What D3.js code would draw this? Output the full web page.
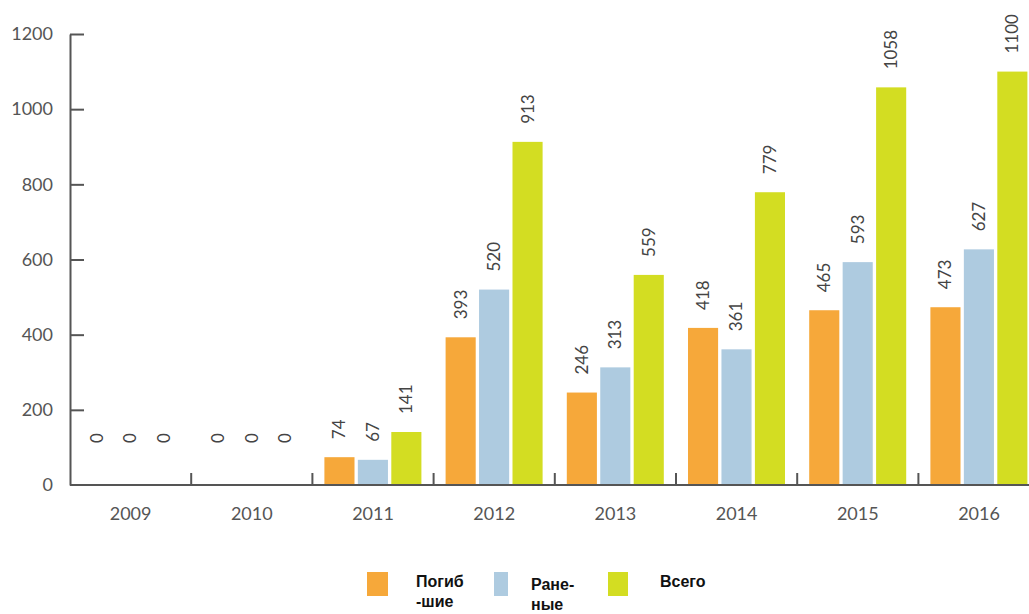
<!DOCTYPE html>
<meta charset="utf-8">
<html>
<head>
<script src="https://d3js.org/d3.v7.min.js"></script>
<style>
  body { margin: 0; background: #fff; }
  .axis text { font: 18px Lato, sans-serif; fill: #555; }
  .axis path, .axis line { stroke: #555; stroke-width: 2px; }
  .val { font: 17px Lato, sans-serif; fill: #444; }
  .leg { font: bold 16px "Liberation Sans", Arial, sans-serif; fill: #111; }
</style>
</head>
<body>
<script>
// data
var years = ["2009", "2010", "2011", "2012", "2013", "2014", "2015", "2016"];
var series = ["killed", "wounded", "total"];
var killed  = [0, 0, 74, 393, 246, 418, 465, 473];
var wounded = [0, 0, 67, 520, 313, 361, 593, 627];
var total   = [0, 0, 141, 913, 559, 779, 1058, 1100];
var yTicks = [0, 200, 400, 600, 800, 1000, 1200];
var legendLines = [["Погиб", "-шие"], ["Ране-", "ные"], ["Всего"]];
var colors = ["#F6A83A", "#AECBE0", "#D3DD22"];

var width = 1029, height = 614;
var left = 70, bandW = 121.2;

var svg = d3.select("body").append("svg")
  .attr("width", width)
  .attr("height", height);

var x0 = d3.scaleBand().domain(years).range([left, left + bandW * years.length]);
var x1 = d3.scaleBand().domain(series).range([12, 109]).paddingInner(0.1);
var y = d3.scaleLinear().domain([0, 1200]).range([485, 34]);

var rows = years.map(function(yr, i) {
  return {year: yr, vals: [killed[i], wounded[i], total[i]]};
});

// bars
var g = svg.selectAll(".grp").data(rows).enter().append("g")
  .attr("transform", function(d) { return "translate(" + x0(d.year) + ",0)"; });

g.selectAll("rect").data(function(d) { return d.vals; }).enter().append("rect")
  .attr("x", function(d, i) { return x1(series[i]); })
  .attr("width", x1.bandwidth())
  .attr("y", function(d) { return y(d); })
  .attr("height", function(d) { return y(0) - y(d); })
  .attr("fill", function(d, i) { return colors[i]; });

g.selectAll("text").data(function(d) { return d.vals; }).enter().append("text")
  .attr("class", "val")
  .attr("transform", function(d, i) {
    var cx = x1(series[i]) + x1.bandwidth() / 2;
    var ty = Math.min(y(d) - 18, y(0) - 42);
    return "translate(" + cx + "," + ty + ") rotate(-90)";
  })
  .attr("dy", "0.35em")
  .style("text-anchor", "start")
  .text(function(d) { return d; });

// y axis
svg.append("g")
  .attr("class", "axis")
  .attr("transform", "translate(" + left + ",0)")
  .call(d3.axisLeft(y).tickValues(yTicks).tickFormat(d3.format("d"))
    .tickSize(-14).tickPadding(17).tickSizeOuter(0))
  .call(function(a) { a.selectAll(".tick").filter(function(d) { return d === 0; }).select("line").remove(); });

// x axis
var xa = svg.append("g")
  .attr("class", "axis")
  .attr("transform", "translate(0," + y(0) + ")")
  .call(d3.axisBottom(x0).tickSize(0).tickPadding(22).tickSizeOuter(0));
xa.select(".domain").attr("d", "M" + left + ",0H" + width);

// boundary ticks
svg.append("g").selectAll("line").data(years.slice(1)).enter().append("line")
  .attr("x1", function(d) { return x0(d); })
  .attr("x2", function(d) { return x0(d); })
  .attr("y1", y(0))
  .attr("y2", y(0) - 12)
  .attr("stroke", "#555")
  .attr("stroke-width", 2);

// legend
var legX = [367, 494, 608];
var legW = [21, 14, 20];
var legTx = [416, 531, 660];
var leg = svg.selectAll(".legItem").data(legendLines).enter().append("g");
leg.append("rect")
  .attr("x", function(d, i) { return legX[i]; })
  .attr("y", 572)
  .attr("width", function(d, i) { return legW[i]; })
  .attr("height", 24)
  .attr("fill", function(d, i) { return colors[i]; });
leg.append("text")
  .attr("class", "leg")
  .attr("x", function(d, i) { return legTx[i]; })
  .attr("y", function(d, i) { return i === 1 ? 590 : 587; })
  .selectAll("tspan").data(function(d) { return d; }).enter().append("tspan")
  .attr("x", function() { return this.parentNode.getAttribute("x"); })
  .attr("dy", function(d, j) { return j === 0 ? 0 : 20; })
  .text(function(d) { return d; });
</script>
</body>
</html>
